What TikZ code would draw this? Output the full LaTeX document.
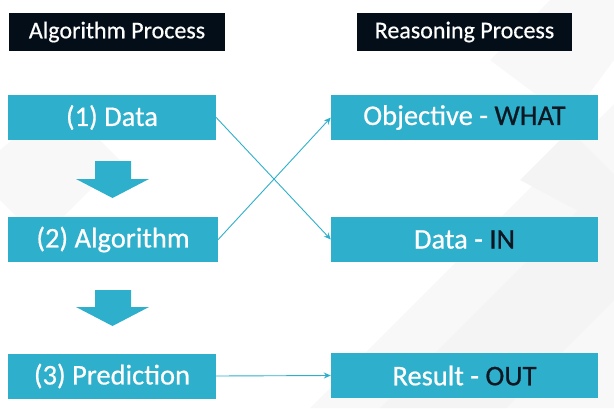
\documentclass[tikz,border=0pt]{standalone}
\usepackage{fontspec}
\setmainfont{Carlito}[FakeBold=0.6]
\usetikzlibrary{arrows.meta}
\definecolor{boxcyan}{HTML}{2EAFCB}
\definecolor{hdrdark}{HTML}{030E18}
\definecolor{txtdark}{HTML}{0B1722}
\definecolor{bgA}{HTML}{F8F8F9}
\definecolor{bgB}{HTML}{F4F4F5}
\tikzset{
  header/.style={fill=hdrdark, text=white, inner sep=0pt, minimum height=38pt,
    font=\fontsize{24}{26}\selectfont},
  procbox/.style={fill=boxcyan, text=white, inner sep=0pt, minimum height=45pt,
    font=\fontsize{28.5}{30}\selectfont},
  link/.style={draw=boxcyan, line width=0.9pt, -{Stealth[length=7pt,width=6pt]}},
  blockarrow/.style={fill=boxcyan, draw=none}
}
\begin{document}
\begin{tikzpicture}[x=1pt,y=-1pt]
\useasboundingbox (0,0) rectangle (614,408);
% faint background shapes
\fill[bgA] (0,150) -- (60,100) -- (120,160) -- (40,240) -- (0,200) -- cycle;
\fill[bgA] (310,408) -- (614,104) -- (614,408) -- cycle;
\fill[bgB] (380,408) -- (614,174) -- (614,300) -- (506,408) -- cycle;
\fill[bgA] (490,60) -- (550,0) -- (614,0) -- (614,60) -- (570,120) -- cycle;
\fill[bgB] (520,180) -- (570,130) -- (614,174) -- (614,230) -- cycle;
% headers
\node[header, minimum width=216pt] (hl) at (117,32) {Algorithm Process};
\node[header, minimum width=215pt] (hr) at (464.5,32) {Reasoning Process};
% left boxes
\node[procbox, minimum width=208pt] (data) at (112,117.5) {(1) Data};
\node[procbox, minimum width=210pt] (algo) at (113,239.5) {(2) Algorithm};
\node[procbox, minimum width=208pt] (pred) at (112,376) {(3) Prediction};
% right boxes
\node[procbox, minimum width=267pt] (obj) at (464.5,117.5) {Objective - \textcolor{txtdark}{WHAT}};
\node[procbox, minimum width=267pt] (din) at (464.5,239.5) {Data - \textcolor{txtdark}{IN}};
\node[procbox, minimum width=267pt] (res) at (464.5,375.5) {Result - \textcolor{txtdark}{OUT}};
% block arrows
\fill[blockarrow] (95,161) -- (131,161) -- (131,179) -- (149,179) -- (112.5,198) -- (76,179) -- (95,179) -- cycle;
\fill[blockarrow] (95,290) -- (131,290) -- (131,307) -- (149,307) -- (112.5,326) -- (76,307) -- (95,307) -- cycle;
% connectors
\draw[link] (data.east) -- (din.west);
\draw[link] (algo.east) -- (obj.west);
\draw[link] (pred.east) -- (res.west);
\end{tikzpicture}
\end{document}
